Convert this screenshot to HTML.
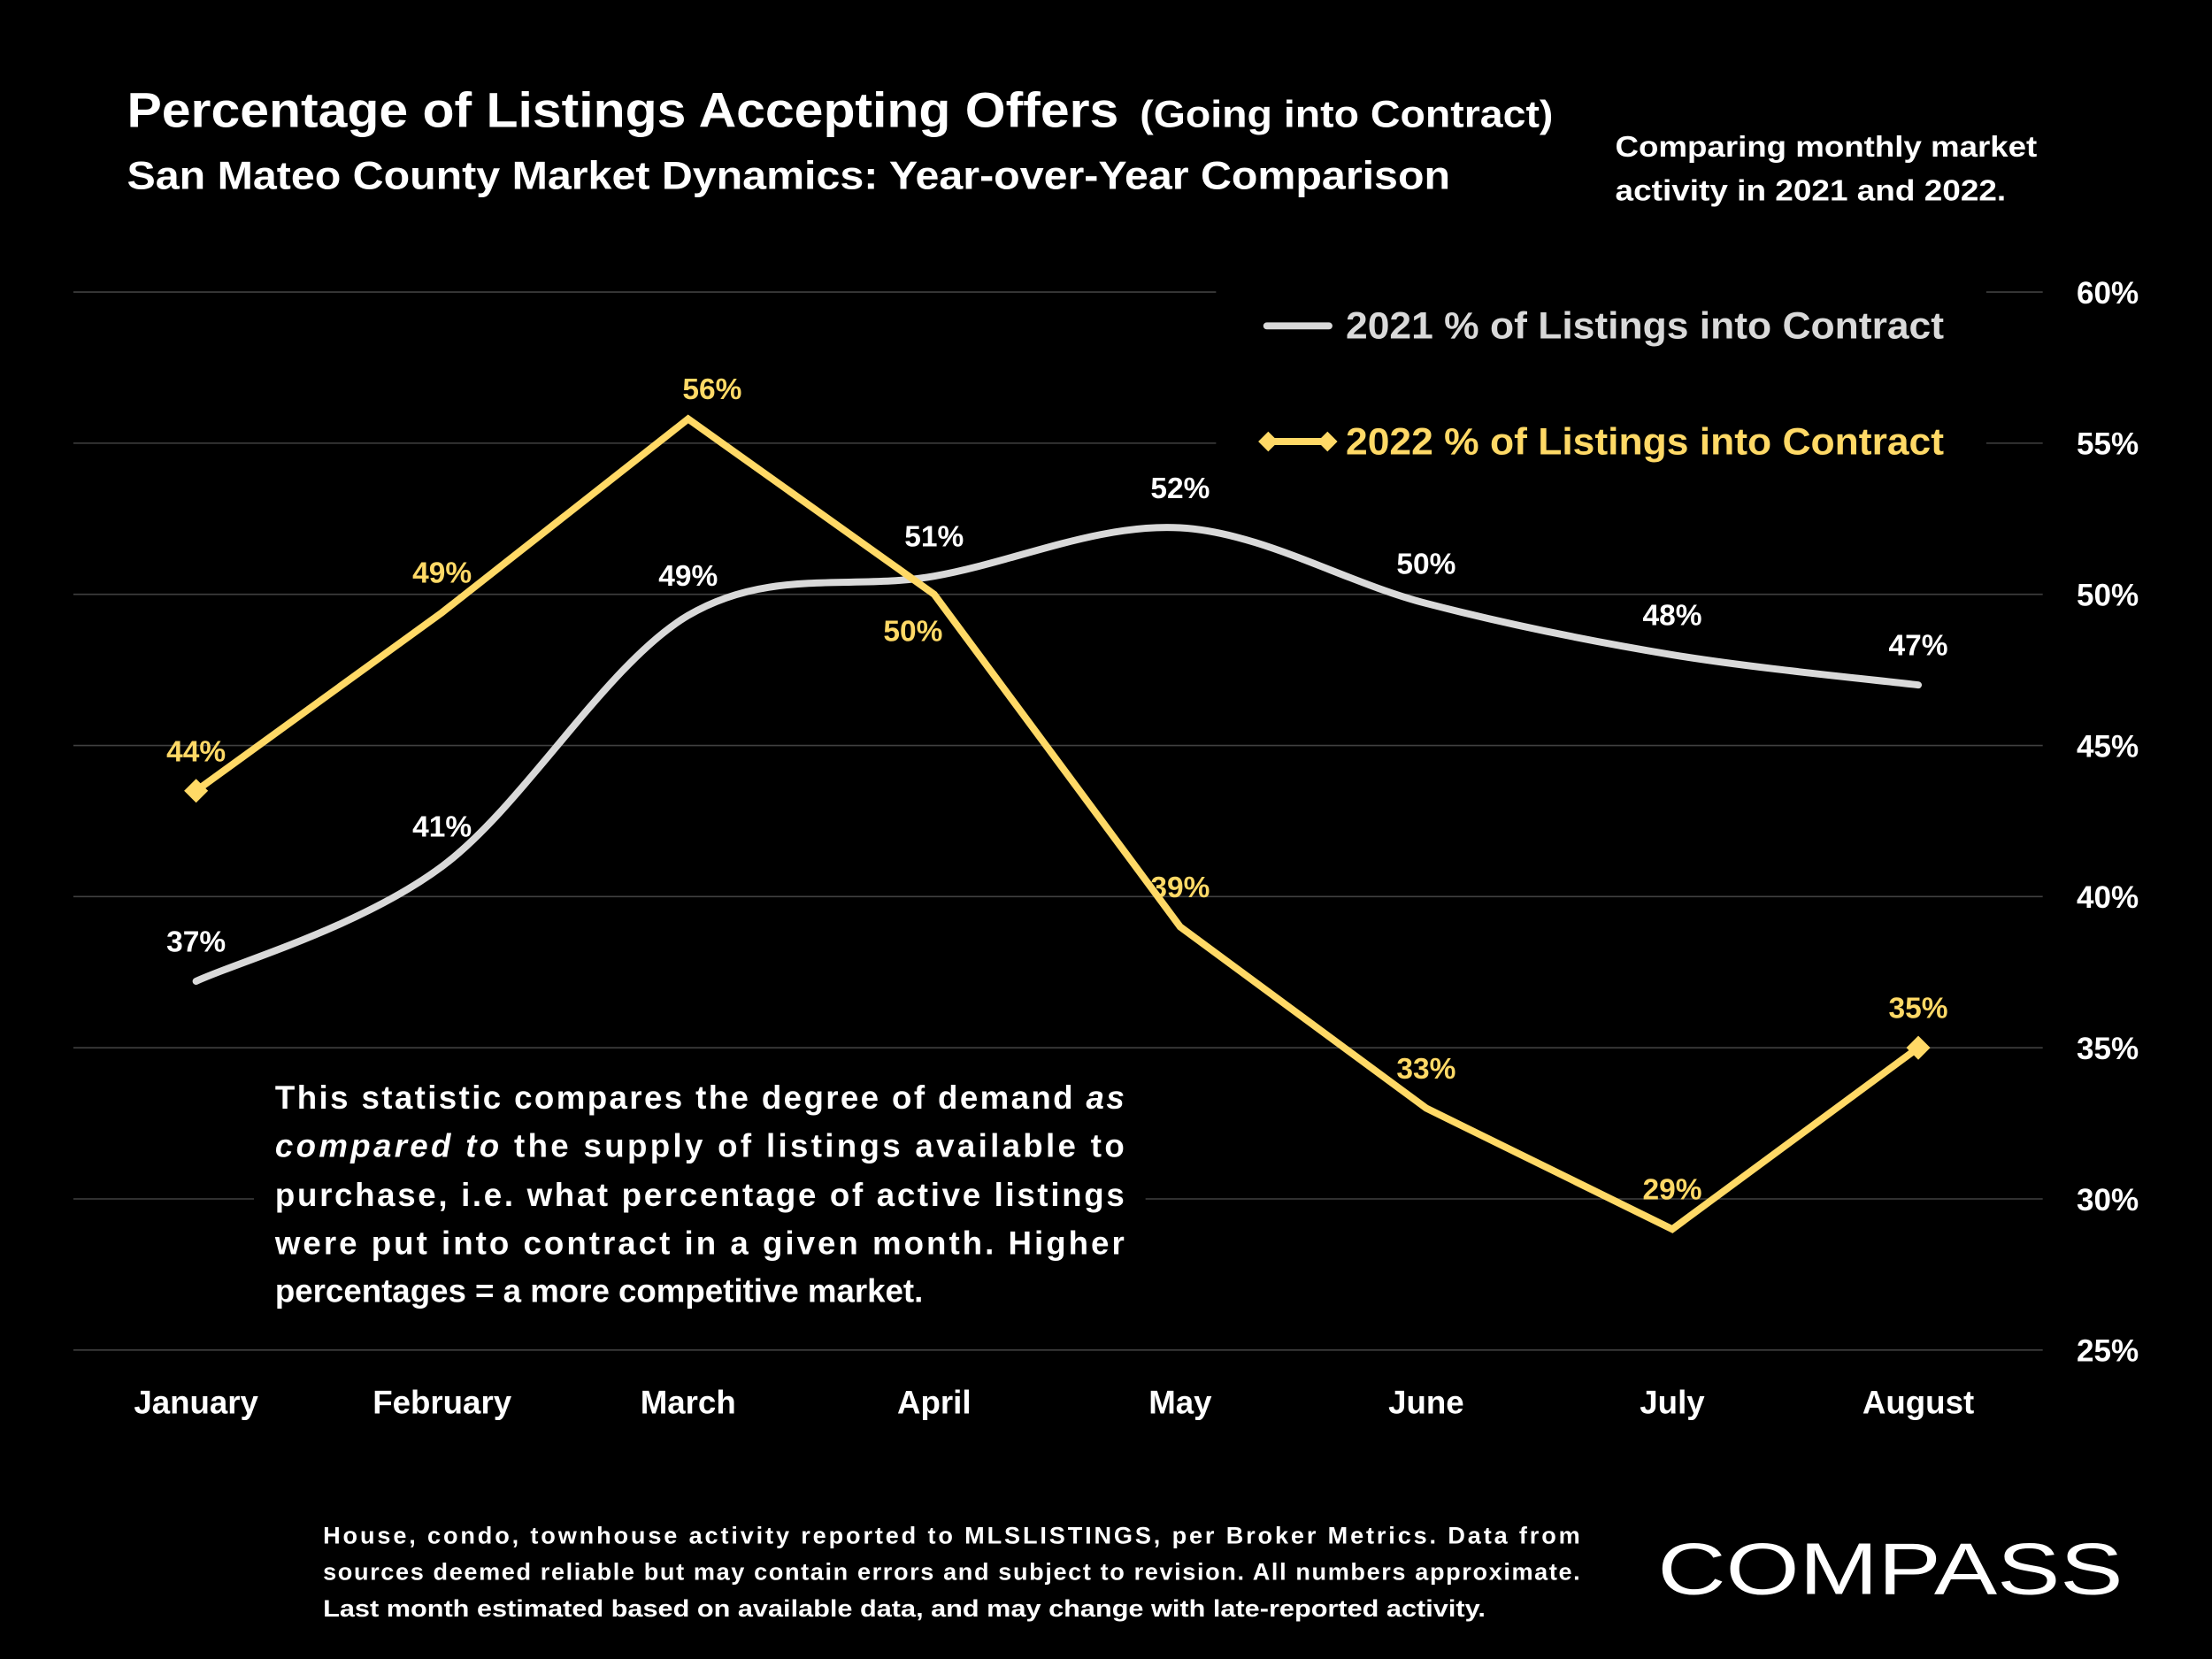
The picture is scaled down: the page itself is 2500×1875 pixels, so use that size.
<!DOCTYPE html>
<html><head><meta charset="utf-8"><style>
html,body{margin:0;padding:0;background:#000;}
svg{display:block;}
text{font-family:"Liberation Sans",sans-serif;font-weight:bold;}
</style></head><body>
<svg id="chart" width="2500" height="1875" viewBox="0 0 1568 1176" xmlns="http://www.w3.org/2000/svg">
<rect width="1568" height="1176" fill="#000"/>
<g id="grid"></g>
<g id="ylabels"></g>
<g id="xlabels"></g>
<g id="series"></g>
<text x="90" y="90" fill="#fff" font-size="35" textLength="703" lengthAdjust="spacingAndGlyphs">Percentage of Listings Accepting Offers</text>
<text x="808" y="90" fill="#fff" font-size="27" textLength="293" lengthAdjust="spacingAndGlyphs">(Going into Contract)</text>
<text x="90" y="134" fill="#fff" font-size="28" textLength="938" lengthAdjust="spacingAndGlyphs">San Mateo County Market Dynamics: Year-over-Year Comparison</text>
<text x="1145" y="111" fill="#fff" font-size="21" textLength="299" lengthAdjust="spacingAndGlyphs">Comparing monthly market</text>
<text x="1145" y="142" fill="#fff" font-size="21" textLength="277" lengthAdjust="spacingAndGlyphs">activity in 2021 and 2022.</text>
<g>
<rect x="862" y="190" width="546" height="150" fill="#000"/>
<line x1="898" y1="231" x2="942" y2="231" stroke="#d9d9d9" stroke-width="5" stroke-linecap="round"/>
<text x="954" y="240" fill="#d9d9d9" font-size="27" textLength="424" lengthAdjust="spacingAndGlyphs">2021 % of Listings into Contract</text>
<line x1="898" y1="313" x2="942" y2="313" stroke="#ffd966" stroke-width="5"/>
<rect x="894" y="308" width="10" height="10" fill="#ffd966" transform="rotate(45 899 313)"/>
<rect x="936" y="308" width="10" height="10" fill="#ffd966" transform="rotate(45 941 313)"/>
<text x="954" y="322" fill="#ffd966" font-size="27" textLength="424" lengthAdjust="spacingAndGlyphs">2022 % of Listings into Contract</text>
</g>
<g>
<rect x="180" y="760" width="632" height="180" fill="#000"/>
<text x="195" y="786" fill="#fff" font-size="23" textLength="602" lengthAdjust="spacing">This statistic compares the degree of demand <tspan font-style="italic">as</tspan></text>
<text x="195" y="820" fill="#fff" font-size="23" textLength="602" lengthAdjust="spacing"><tspan font-style="italic">compared to</tspan> the supply of listings available to</text>
<text x="195" y="855" fill="#fff" font-size="23" textLength="602" lengthAdjust="spacing">purchase, i.e. what percentage of active listings</text>
<text x="195" y="889" fill="#fff" font-size="23" textLength="602" lengthAdjust="spacing">were put into contract in a given month. Higher</text>
<text x="195" y="923" fill="#fff" font-size="23">percentages = a more competitive market.</text>
</g>
<g>
<text x="229" y="1094" fill="#fff" font-size="17" textLength="891" lengthAdjust="spacing">House, condo, townhouse activity reported to MLSLISTINGS, per Broker Metrics. Data from</text>
<text x="229" y="1120" fill="#fff" font-size="17" textLength="891" lengthAdjust="spacing">sources deemed reliable but may contain errors and subject to revision. All numbers approximate.</text>
<text x="229" y="1146" fill="#fff" font-size="17" textLength="824" lengthAdjust="spacingAndGlyphs">Last month estimated based on available data, and may change with late-reported activity.</text>
</g>
<text x="1175" y="1130" fill="#fff" font-size="52" style="font-weight:normal" textLength="330" lengthAdjust="spacingAndGlyphs">COMPASS</text>
</svg>
<script>
const months=["January","February","March","April","May","June","July","August"];
const v2021=[37.2,41.0,49.3,50.6,52.2,49.7,48.0,47.0];
const v2022=[43.5,49.4,55.8,50.0,39.0,33.0,29.0,35.0];
const labels2021=["37%","41%","49%","51%","52%","50%","48%","47%"];
const labels2022=["44%","49%","56%","50%","39%","33%","29%","35%"];
const yTicks=[25,30,35,40,45,50,55,60];
const NS="http://www.w3.org/2000/svg";
function X(i){return 139+i*174.4;}
function Y(v){return 207+(60-v)*(750/35);}
function mk(tag,attrs,parent,txt){const e=document.createElementNS(NS,tag);for(const k in attrs)e.setAttribute(k,attrs[k]);if(txt!==undefined)e.textContent=txt;parent.appendChild(e);return e;}
const grid=document.getElementById('grid'),yl=document.getElementById('ylabels'),xl=document.getElementById('xlabels'),ser=document.getElementById('series');
yTicks.forEach(t=>{
 const l=mk('line',{x1:52,x2:1448,y1:Y(t),y2:Y(t),stroke:'#404040','stroke-width':1},grid);
 
 
 const tx=mk('text',{x:1472,y:Y(t)+8,fill:'#fff','font-size':22},yl,t+'%');
 
 
});
months.forEach((m,i)=>{
 const tx=mk('text',{x:X(i),y:1002,fill:'#fff','font-size':23,'text-anchor':'middle'},xl,m);
 
 
});
const p1=v2021.map((v,i)=>[X(i),Y(v)]);
let d='M'+p1[0][0]+','+p1[0][1];
for(let i=0;i<p1.length-1;i++){
 const p0=p1[Math.max(0,i-1)],a=p1[i],b=p1[i+1],p3=p1[Math.min(p1.length-1,i+2)];
 const c1=[a[0]+(b[0]-p0[0])/6,a[1]+(b[1]-p0[1])/6],c2=[b[0]-(p3[0]-a[0])/6,b[1]-(p3[1]-a[1])/6];
 d+=` C${c1[0]},${c1[1]} ${c2[0]},${c2[1]} ${b[0]},${b[1]}`;
}
const l21=mk('path',{d:d,fill:'none',stroke:'#d9d9d9','stroke-width':5,'stroke-linecap':'round'},ser);


const l22=mk('polyline',{points:v2022.map((v,i)=>X(i)+','+Y(v)).join(' '),fill:'none',stroke:'#ffd966','stroke-width':5,'stroke-linejoin':'miter'},ser);


[0,v2022.length-1].forEach(i=>{
 const r=mk('rect',{x:X(i)-6,y:Y(v2022[i])-6,width:12,height:12,fill:'#ffd966',transform:`rotate(45 ${X(i)} ${Y(v2022[i])})`},ser);
 
 
});
v2021.forEach((v,i)=>{
 const t=mk('text',{x:X(i),y:Y(v)-21,fill:'#fff','font-size':21,'text-anchor':'middle'},ser,labels2021[i]);
 
 
});
v2022.forEach((v,i)=>{
 let dx=0,dy=-21;
 if(i===3){dx=-15;dy=33;}
 if(i===2){dx=17;dy=-14;}
 const t=mk('text',{x:X(i)+dx,y:Y(v)+dy,fill:'#ffd966','font-size':21,'text-anchor':'middle'},ser,labels2022[i]);
 
 
});
</script>
</body></html>
